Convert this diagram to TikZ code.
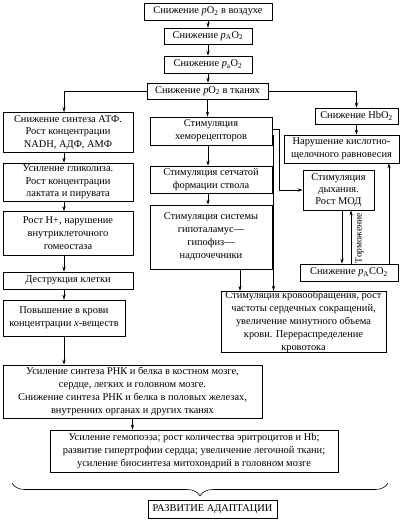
\documentclass[tikz,border=0pt]{standalone}
\usepackage{fontspec}
\setmainfont{Liberation Serif}
\usetikzlibrary{arrows.meta,decorations.pathreplacing}
\newcommand{\ip}{\textit{p}}
\begin{document}
\begin{tikzpicture}[x=1pt,y=-1pt,
  bx/.style={draw, line width=0.7pt, align=center, inner sep=0pt,
    font=\fontsize{10.4}{13}\selectfont},
  tight/.style={font=\fontsize{10.4}{12.3}\selectfont},
  arr/.style={line width=0.6pt, -{Stealth[length=5pt,width=3.2pt]}},
  ln/.style={line width=0.6pt},
  lbl/.style={inner sep=0pt, font=\fontsize{9.5}{11}\selectfont}]
\useasboundingbox (0,0) rectangle (400,520);
% top chain
\node[bx, minimum width=128pt, minimum height=17pt] (n1) at (208,11.5) {Снижение \ip O\textsubscript{2} в воздухе};
\node[bx, minimum width=88pt, minimum height=16pt] (n2) at (208,36) {Снижение \ip\textsubscript{A}O\textsubscript{2}};
\node[bx, minimum width=88pt, minimum height=17pt] (n3) at (208,64.5) {Снижение \ip\textsubscript{a}O\textsubscript{2}};
\node[bx, minimum width=121pt, minimum height=16pt] (n4) at (207.5,91) {Снижение \ip O\textsubscript{2} в тканях};
% left column
\node[bx, tight, minimum width=130pt, minimum height=40pt] (atf) at (68,132.5) {Снижение синтеза АТФ.\\Рост концентрации\\NADH, АДФ, АМФ};
\node[bx, tight, minimum width=130pt, minimum height=38pt] (glik) at (68,182) {Усиление гликолиза.\\Рост концентрации\\лактата и пирувата};
\node[bx, minimum width=130pt, minimum height=44pt] (hpl) at (68,233.5) {Рост H+, нарушение\\внутриклеточного\\гомеостаза};
\node[bx, minimum width=130pt, minimum height=17pt] (destr) at (68,280.5) {Деструкция клетки};
\node[bx, minimum width=122pt, minimum height=36pt] (pov) at (64,318) {Повышение в крови\\концентрации \textit{x}-веществ};
\node[bx, minimum width=259pt, minimum height=53pt] (rnk) at (132.5,391.5) {Усиление синтеза РНК и белка в костном мозге,\\сердце, легких и головном мозге.\\Снижение синтеза РНК и белка в половых железах,\\внутренних органах и других тканях};
\node[bx, minimum width=288pt, minimum height=42pt] (gemo) at (194,451) {Усиление гемопоэза; рост количества эритроцитов и Hb;\\развитие гипертрофии сердца; увеличение легочной ткани;\\усиление биосинтеза митохондрий в головном мозге};
\node[bx, minimum width=129pt, minimum height=18pt] (razv) at (212.5,509) {РАЗВИТИЕ АДАПТАЦИИ};
% middle column
\node[bx, minimum width=122pt, minimum height=28pt] (hemo) at (211,131) {Стимуляция\\хеморецепторов};
\node[bx, minimum width=122pt, minimum height=27pt] (setch) at (211,179.5) {Стимуляция сетчатой\\формации ствола};
\node[bx, minimum width=122pt, minimum height=64pt] (gipo) at (211,237) {Стимуляция системы\\гипоталамус—\\гипофиз—\\надпочечники};
\node[bx, minimum width=165pt, minimum height=60pt] (krov) at (303.5,322) {Стимуляция кровообращения, рост\\частоты сердечных сокращений,\\увеличение минутного объема\\крови. Перераспределение\\кровотока};
% right column
\node[bx, minimum width=83pt, minimum height=16pt] (hbo) at (356.5,116) {Снижение HbO\textsubscript{2}};
\node[bx, minimum width=115pt, minimum height=28pt] (nar) at (341.5,149) {Нарушение кислотно-\\щелочного равновесия};
\node[bx, tight, minimum width=71pt, minimum height=40pt] (dyh) at (338.5,190) {Стимуляция\\дыхания.\\Рост МОД};
\node[bx, minimum width=98pt, minimum height=17pt] (paco) at (349,272.5) {Снижение \ip\textsubscript{A}CO\textsubscript{2}};
% connectors top
\draw[arr] (n1.south) -- (n2.north);
\draw[arr] (n2.south) -- (n3.north);
\draw[arr] (n3.south) -- (n3.south |- n4.north);
\draw[arr] (n4.west) -| ([xshift=-4pt]atf.north);
\draw[arr] (n4.east) -| (hbo.north);
\draw[arr] (n4.south) -- (n4.south |- hemo.north);
% left chain
\draw[arr] ([xshift=-4pt]atf.south) -- ([xshift=-4pt]glik.north);
\draw[arr] ([xshift=-4pt]glik.south) -- ([xshift=-4pt]hpl.north);
\draw[arr] ([xshift=-4pt]hpl.south) -- ([xshift=-4pt]destr.north);
\draw[arr] ([xshift=-4pt]destr.south) -- (pov.north);
\draw[arr] (pov.south) -- (pov.south |- rnk.north);
\draw[arr] (rnk.south) -- (rnk.south |- gemo.north);
% middle chain
\draw[arr] ([xshift=-3pt]hemo.south) -- ([xshift=-3pt]setch.north);
\draw[arr] ([xshift=-3pt]setch.south) -- ([xshift=-3pt]gipo.north);
\draw[arr] ([xshift=29pt]gipo.south) -- ([xshift=29pt]gipo.south |- krov.north);
\draw[arr] ([yshift=2pt]hemo.east) -- ++(7,0) |- (dyh.west);
\draw[arr] ([yshift=-4pt]hemo.east) -| ([xshift=-30pt]krov.north);
% right chain
\draw[arr] (hbo.south) -- (hbo.south |- nar.north);
\draw[arr] ([xshift=3.5pt]dyh.south) -- ([xshift=3.5pt]dyh.south |- paco.north);
\draw[arr] ([xshift=2pt]paco.north) -- ([xshift=2pt]paco.north |- dyh.south);
\draw[arr] ([xshift=40pt]paco.north) -- ([xshift=40pt]paco.north |- nar.south);
\node[lbl, rotate=90] (torm) at (359.5,238) {Торможение};
% brace
\draw[ln, decorate, decoration={brace, amplitude=13pt, mirror}] (12,483) -- (388,483);
\end{tikzpicture}
\end{document}
